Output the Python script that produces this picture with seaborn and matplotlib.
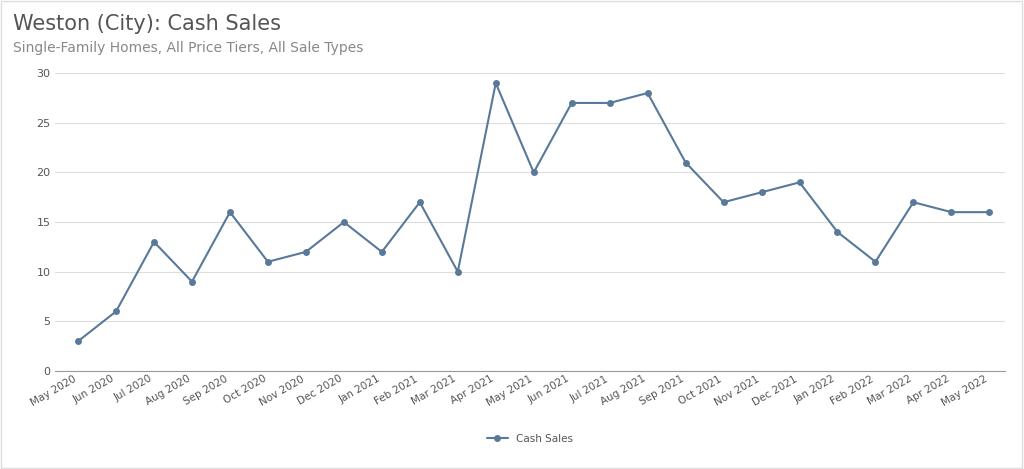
import matplotlib
matplotlib.use("Agg")
import matplotlib.pyplot as plt
import seaborn as sns
import pandas as pd

months = ["May 2020", "Jun 2020", "Jul 2020", "Aug 2020", "Sep 2020", "Oct 2020", "Nov 2020",
          "Dec 2020", "Jan 2021", "Feb 2021", "Mar 2021", "Apr 2021", "May 2021", "Jun 2021",
          "Jul 2021", "Aug 2021", "Sep 2021", "Oct 2021", "Nov 2021", "Dec 2021", "Jan 2022",
          "Feb 2022", "Mar 2022", "Apr 2022", "May 2022"]
cash_sales = [3, 6, 13, 9, 16, 11, 12, 15, 12, 17, 10, 29, 20, 27, 27, 28, 21, 17, 18, 19,
              14, 11, 17, 16, 16]

df = pd.DataFrame({"month": months, "Cash Sales": cash_sales, "idx": range(len(months))})

sns.set_style("white")
fig = plt.figure(figsize=(10.24, 4.69), dpi=100)
ax = fig.add_axes([0.054, 0.209, 0.927, 0.635])
color = "#58799a"
sns.lineplot(data=df, x="idx", y="Cash Sales", ax=ax, color=color, marker="o",
             markersize=5, markeredgewidth=0, linewidth=1.5, label="Cash Sales")

ax.set_xlim(-0.6, len(months) - 0.6)
ax.set_ylim(0, 30)
ax.set_yticks(range(0, 31, 5))
ax.set_xticks(df["idx"])
ax.set_xticklabels(months, rotation=30, ha="right", fontsize=7.5, color="#555555")
ax.tick_params(axis="y", labelsize=8, colors="#555555", length=0)
ax.tick_params(axis="x", length=0, pad=2)
ax.set_xlabel("")
ax.set_ylabel("")
ax.grid(axis="y", color="#dddddd", linewidth=0.8)
for s in ["top", "right", "left"]:
    ax.spines[s].set_visible(False)
ax.spines["bottom"].set_color("#999999")

ax.legend(loc="upper center", bbox_to_anchor=(0.5, -0.18), frameon=False, fontsize=7.5,
          labelcolor="#555555")

fig.text(0.013, 0.935, "Weston (City): Cash Sales", fontsize=15, color="#555555")
fig.text(0.013, 0.89, "Single-Family Homes, All Price Tiers, All Sale Types", fontsize=10,
         color="#888888")
fig.patches.append(plt.Rectangle((0.001, 0.002), 0.997, 0.995, transform=fig.transFigure,
                                 fill=False, edgecolor="#dddddd", linewidth=1))

fig.savefig("out.png", dpi=100)
